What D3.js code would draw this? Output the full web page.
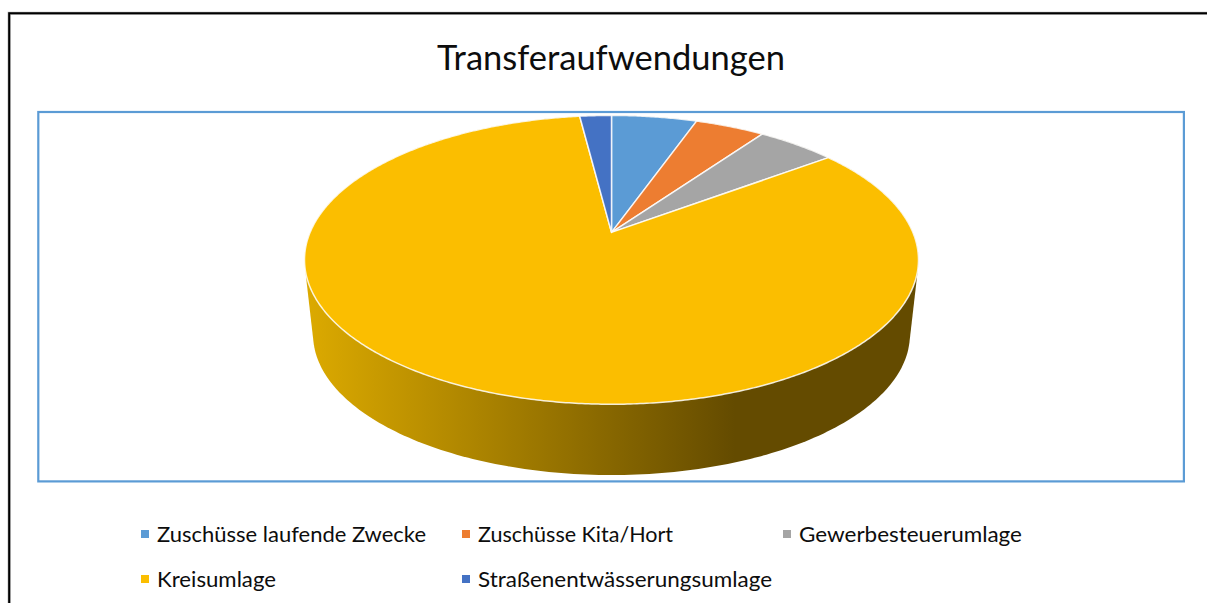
<!DOCTYPE html>
<html><head><meta charset="utf-8">
<script src="https://cdn.jsdelivr.net/npm/d3@7/dist/d3.min.js"></script>
<style>html,body{margin:0;padding:0;background:#fff;overflow:hidden}svg{display:block}text{font-family:Lato,"Noto Sans",sans-serif;fill:#0d0d0d}</style>
</head><body><svg id="c" width="1207" height="603"></svg>
<script>
const categories=["Zuschüsse laufende Zwecke","Zuschüsse Kita/Hort","Gewerbesteuerumlage","Kreisumlage","Straßenentwässerungsumlage"];
const shares=[5.4,4.4,5.0,83.2,2.0];
const colors=["#5b9bd5","#ed7d31","#a5a5a5","#fbbe00","#4472c4"];
const title="Transferaufwendungen";

const svg=d3.select("#c");
// frame: soft grey edge under a black rule
svg.append("path").attr("d","M9.2,603V13.4H1207").attr("fill","none").attr("stroke","#b8b8b8").attr("stroke-width",3.2);
svg.append("path").attr("d","M9.2,603V13.2H1207").attr("fill","none").attr("stroke","#000").attr("stroke-width",2);
// plot area
svg.append("rect").attr("x",38.3).attr("y",112).attr("width",1145.6).attr("height",369.4).attr("fill","#fff").attr("stroke","#5b9bd5").attr("stroke-width",2.2);
svg.append("text").attr("x",611).attr("y",70).attr("text-anchor","middle").attr("font-size",34.5).text(title);

// perspective projection of a tilted disc
const persp=0.19;
function project(a,cx,cy,R,K,s){
  const u=Math.sin(a),v=Math.cos(a),w=1+persp*v;
  return [cx+s*R*u/w, cy-s*K*v/w];
}
const topDisc=a=>project(a,611.5,232.4,301.4,139.2,1);
const botDisc=a=>project(a,611.5,308,301.4,139.2,0.972);
const TAU=2*Math.PI;
const sweep=d3.range(0,361).map(i=>i/360*TAU);

// side wall
const defs=svg.append("defs");
const grad=defs.append("linearGradient").attr("id","wall").attr("gradientUnits","userSpaceOnUse")
  .attr("x1",306).attr("x2",735).attr("y1",0).attr("y2",0);
grad.append("stop").attr("offset",0).attr("stop-color","#dcaa00");
grad.append("stop").attr("offset",1).attr("stop-color","#644b00");
const hull=d3.polygonHull(sweep.flatMap(a=>[topDisc(a),botDisc(a)]));
svg.append("path").attr("d",d3.line()(hull)+"Z").attr("fill","url(#wall)");

// slices
const pie=d3.pie().sort(null).value(d=>d);
const line=d3.line();
pie(shares).forEach((d,i)=>{
  const n=Math.max(2,Math.ceil((d.endAngle-d.startAngle)/TAU*720));
  const pts=[[611.5,232.4]];
  for(let j=0;j<=n;j++)pts.push(topDisc(d.startAngle+(d.endAngle-d.startAngle)*j/n));
  svg.append("path").attr("d",line(pts)+"Z").attr("fill",colors[i]).attr("stroke","#fff").attr("stroke-opacity",.85).attr("stroke-width",1.5).attr("stroke-linejoin","round");
});

// legend
const legendX=[141,462,783,141,462], legendY=[534,534,534,579,579], legendW=[269,195,223,119,294];
categories.forEach((c,i)=>{
  svg.append("rect").attr("x",legendX[i]).attr("y",legendY[i]-4).attr("width",8).attr("height",8).attr("fill",colors[i]);
  svg.append("text").attr("x",legendX[i]+16).attr("y",legendY[i]+7.5).attr("font-size",22)
    .attr("textLength",legendW[i]).attr("lengthAdjust","spacingAndGlyphs").text(c);
});
</script></body></html>
